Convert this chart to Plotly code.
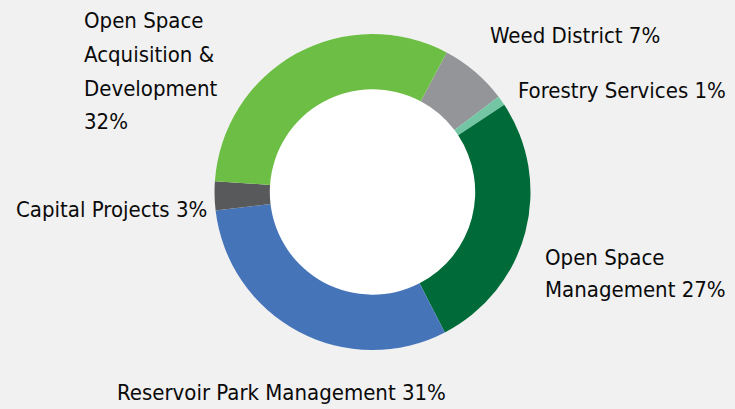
import plotly.graph_objects as go

categories = ["Weed District", "Forestry Services", "Open Space Management",
              "Reservoir Park Management", "Capital Projects",
              "Open Space Acquisition & Development"]
values = [7, 1, 27, 31, 3, 32]
colors = ["#939598", "#72C6A4", "#006B38", "#4674B9", "#58595B", "#6DBE45"]

label_lines = [["Weed District 7%"], ["Forestry Services 1%"],
               ["Open Space", "Management 27%"], ["Reservoir Park Management 31%"],
               ["Capital Projects 3%"],
               ["Open Space", "Acquisition &", "Development", "32%"]]
label_x = [488, 516, 543, 115, 14, 82]
label_y = [36, 91, 257, 392, 209, 20]
label_spacing = [34, 34, 32, 34, 34, 34]

W, H = 735, 409
FONT = "DejaVu Sans Condensed, Liberation Sans Narrow, Arial Narrow, sans-serif"

cx, cy, r = 372.5, 192, 158
domain = dict(x=[(cx - 200) / W, (cx + 200) / W],
              y=[1 - (cy + r) / H, 1 - (cy - r) / H])

fig = go.Figure()
# white backing disc that shows through the donut hole
fig.add_trace(go.Pie(values=[1], labels=[""], sort=False, textinfo="none",
                     hoverinfo="skip", marker=dict(colors=["#FFFFFF"], line=dict(width=0)),
                     domain=domain, showlegend=False))
fig.add_trace(go.Pie(
    labels=categories, values=values, sort=False, direction="clockwise",
    rotation=28, hole=0.65, textinfo="none", hoverinfo="label+percent",
    marker=dict(colors=colors, line=dict(width=0)),
    domain=domain, showlegend=False,
))

for lines, x, y, sp in zip(label_lines, label_x, label_y, label_spacing):
    for i, t in enumerate(lines):
        fig.add_annotation(text=t, x=x / W, y=1 - (y + i * sp) / H,
                           xref="paper", yref="paper",
                           xanchor="left", yanchor="middle", align="left",
                           showarrow=False,
                           font=dict(family=FONT, size=22, color="#0A0A0A"))

fig.update_layout(width=W, height=H, margin=dict(l=0, r=0, t=0, b=0),
                  paper_bgcolor="#F1F1F1", plot_bgcolor="#F1F1F1")
fig.write_html("out.html", config={"displayModeBar": False},
               post_script="document.body.style.margin='0';document.body.style.background='#F1F1F1';")
